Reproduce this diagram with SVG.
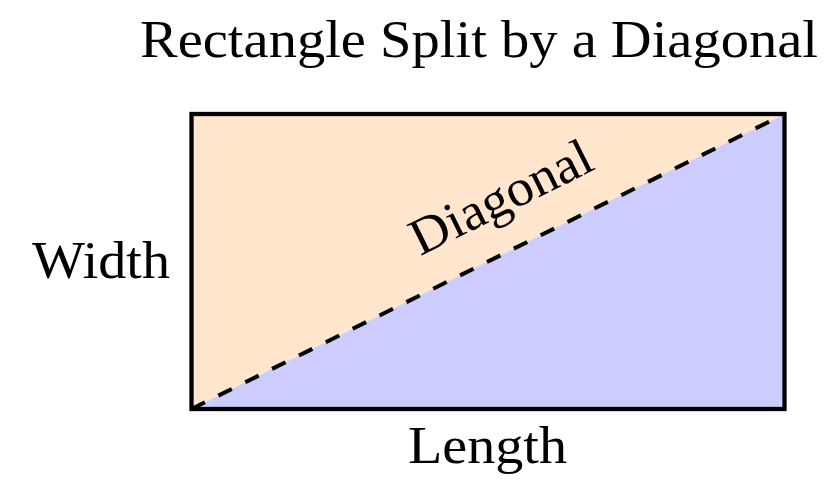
<svg xmlns="http://www.w3.org/2000/svg" width="834" height="485" viewBox="0 0 834 485">
  <style>
    .lbl { font-family: "Liberation Serif", "Times New Roman", serif; font-size: 52px; fill: #000; text-anchor: middle; }
  </style>
  <rect x="0" y="0" width="834" height="485" fill="#ffffff"/>
  <g id="title">
    <text class="lbl" x="479" y="57" textLength="678" lengthAdjust="spacingAndGlyphs">Rectangle Split by a Diagonal</text>
  </g>
  <g id="rectangle">
    <polygon points="191.5,114 784.5,114 191.5,409" fill="#FFE6CC"/>
    <polygon points="784.5,114 784.5,409 191.5,409" fill="#CCCCFF"/>
  </g>
  <g id="connectors">
    <line x1="191.5" y1="409" x2="784.5" y2="114" stroke="#000" stroke-width="4" stroke-dasharray="15 15"/>
  </g>
  <g id="border">
    <rect x="191.5" y="114" width="593" height="295" fill="none" stroke="#000" stroke-width="4.3"/>
  </g>
  <g id="diagonal-label">
    <text class="lbl" transform="translate(508.5,212.5) rotate(-26.45)" x="0" y="0" textLength="197" lengthAdjust="spacingAndGlyphs">Diagonal</text>
  </g>
  <g id="width-label">
    <text class="lbl" x="101" y="278" textLength="138" lengthAdjust="spacingAndGlyphs">Width</text>
  </g>
  <g id="length-label">
    <text class="lbl" x="487.5" y="463" textLength="159" lengthAdjust="spacingAndGlyphs">Length</text>
  </g>
</svg>
